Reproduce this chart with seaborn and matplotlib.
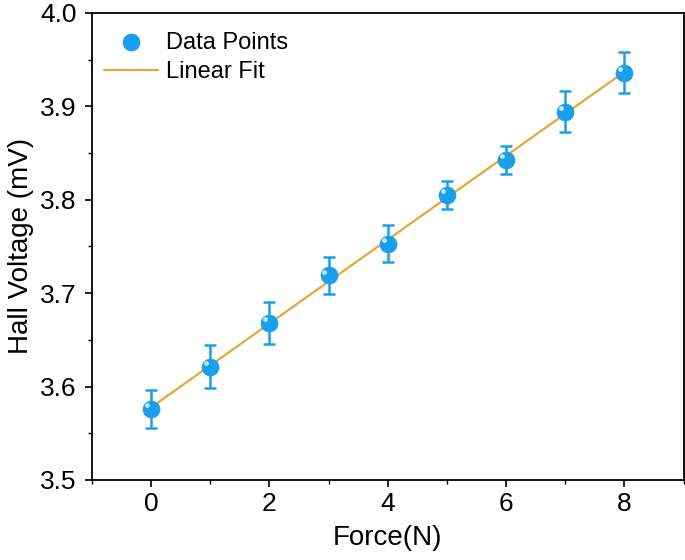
import numpy as np
import seaborn as sns
import matplotlib
matplotlib.use('Agg')
import matplotlib.pyplot as plt
from matplotlib.ticker import MultipleLocator, FormatStrFormatter

force = [0, 1, 2, 3, 4, 5, 6, 7, 8]
voltage = [3.576, 3.621, 3.668, 3.719, 3.753, 3.805, 3.843, 3.894, 3.936]
error = [0.020, 0.023, 0.022, 0.020, 0.020, 0.015, 0.015, 0.022, 0.022]

point_color = "#1a9fec"
fit_color = "#e2aa34"

sns.set_style("ticks")
plt.rcParams['font.family'] = ['Liberation Sans', 'DejaVu Sans']
plt.rcParams['text.color'] = 'black'
plt.rcParams['xtick.color'] = 'black'
plt.rcParams['ytick.color'] = 'black'
plt.rcParams['axes.labelcolor'] = 'black'

fig = plt.figure(figsize=(6.85, 5.6), dpi=100)
ax = fig.add_axes([0.134, 0.143, 0.864, 0.834])

# linear fit through the points
slope, intercept = np.polyfit(force, voltage, 1)
xfit = np.array([force[0], force[-1]])
ax.plot(xfit, slope * xfit + intercept, color=fit_color, lw=1.6, label="Linear Fit", zorder=2)

ax.errorbar(force, voltage, yerr=error, fmt="none", ecolor=point_color,
            elinewidth=1.8, capsize=4, capthick=1.8, zorder=1)
sns.scatterplot(x=force, y=voltage, ax=ax, color=point_color, s=150,
                edgecolor=point_color, linewidth=0.5, label="Data Points", zorder=3)
# small highlight so the markers look a bit like spheres
ax.scatter(np.array(force) - 0.07, np.array(voltage) + 0.004, s=12, color="white",
           alpha=0.75, linewidths=0, zorder=4)

ax.set_xlim(-1, 9)
ax.set_ylim(3.5, 4.0)
ax.xaxis.set_major_locator(MultipleLocator(2))
ax.xaxis.set_minor_locator(MultipleLocator(1))
ax.yaxis.set_major_locator(MultipleLocator(0.1))
ax.yaxis.set_minor_locator(MultipleLocator(0.05))
ax.yaxis.set_major_formatter(FormatStrFormatter('%.1f'))
ax.tick_params(which="major", direction="out", length=5, width=1.2, labelsize=19)
ax.tick_params(which="minor", direction="out", length=3, width=1.0)
ax.tick_params(axis="y", which="major", pad=6)
for sp in ax.spines.values():
    sp.set_linewidth(1.3)
    sp.set_color("black")
ax.set_xlabel("Force(N)", fontsize=20, labelpad=7)
ax.set_ylabel("Hall Voltage (mV)", fontsize=20, labelpad=4)

handles, labels = ax.get_legend_handles_labels()
order = [labels.index("Data Points"), labels.index("Linear Fit")]
ax.legend([handles[i] for i in order], [labels[i] for i in order],
          loc="upper left", bbox_to_anchor=(0, 0.985), frameon=False,
          fontsize=17, handlelength=2.3, handletextpad=0.35,
          labelspacing=0.33, borderpad=0.2, borderaxespad=0.3)

fig.savefig("out.png", dpi=100)
